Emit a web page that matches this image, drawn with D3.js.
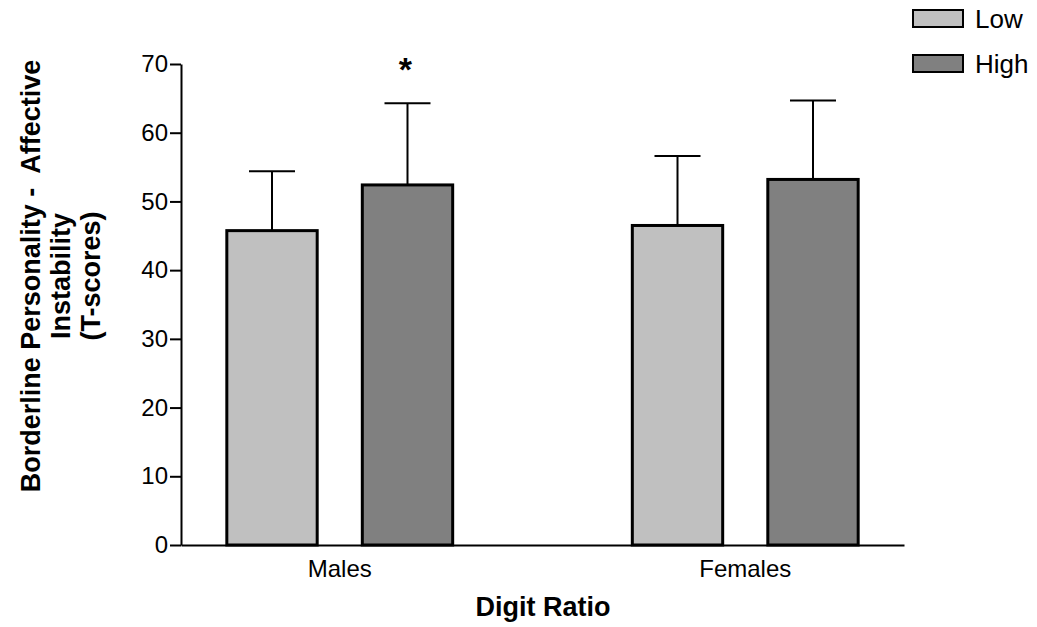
<!DOCTYPE html>
<html>
<head>
<meta charset="utf-8">
<script src="https://cdn.jsdelivr.net/npm/d3@7.9.0/dist/d3.min.js"></script>
<style>
  body { margin: 0; background: #fff; }
  svg { display: block; font-family: "Liberation Sans", Arial, sans-serif; }
</style>
</head>
<body>
<svg id="chart" width="1037" height="627"></svg>
<script>
const groups = ['Males', 'Females'];
const levels = ['Low', 'High'];
const means = [[45.75, 52.4], [46.5, 53.2]];
const errs = [[8.65, 11.9], [10.1, 11.5]];
const yTicks = [0, 10, 20, 30, 40, 50, 60, 70];
const sigMark = [['', '*'], ['', '']];

const colors = d3.scaleOrdinal().domain(levels).range(['#c0c0c0', '#808080']);

const svg = d3.select('#chart');

const x0 = d3.scaleBand()
    .domain(groups)
    .range([181, 904])
    .paddingInner(0.443)
    .paddingOuter(0.113);

const x1 = d3.scaleBand()
    .domain(levels)
    .range([0, x0.bandwidth()])
    .paddingInner(0.333);

const y = d3.scaleLinear().domain([0, 70]).range([545, 64]);

// y axis
const yAxis = svg.append('g')
    .attr('transform', 'translate(181,0)')
    .call(d3.axisLeft(y).tickValues(yTicks).tickSize(11).tickSizeOuter(0).tickPadding(2));
yAxis.select('.domain').attr('stroke-width', 2);
yAxis.selectAll('.tick line').attr('stroke-width', 2);
yAxis.selectAll('.tick text').attr('font-size', 24).attr('fill', '#000');

// bars
const data = [];
groups.forEach((g, gi) => levels.forEach((l, li) => {
  data.push({ group: g, level: l, mean: means[gi][li], err: errs[gi][li], mark: sigMark[gi][li] });
}));

const bar = svg.append('g').selectAll('g')
    .data(data)
    .join('g')
    .attr('transform', d => `translate(${x0(d.group) + x1(d.level)},0)`);

const capW = 46;
bar.append('line')
    .attr('x1', x1.bandwidth() / 2).attr('x2', x1.bandwidth() / 2)
    .attr('y1', d => y(d.mean)).attr('y2', d => y(d.mean + d.err))
    .attr('stroke', '#000').attr('stroke-width', 2);
bar.append('line')
    .attr('x1', x1.bandwidth() / 2 - capW / 2).attr('x2', x1.bandwidth() / 2 + capW / 2)
    .attr('y1', d => y(d.mean + d.err)).attr('y2', d => y(d.mean + d.err))
    .attr('stroke', '#000').attr('stroke-width', 2);

bar.append('rect')
    .attr('x', 0)
    .attr('width', x1.bandwidth())
    .attr('y', d => y(d.mean))
    .attr('height', d => y(0) - y(d.mean))
    .attr('fill', d => colors(d.level))
    .attr('stroke', '#000')
    .attr('stroke-width', 3);

bar.append('text')
    .attr('x', x1.bandwidth() / 2 - 2)
    .attr('y', y(70) + 17)
    .attr('text-anchor', 'middle')
    .attr('font-size', 34)
    .attr('font-weight', 'bold')
    .text(d => d.mark);

// x axis
const xAxis = svg.append('g')
    .attr('transform', 'translate(0,545)')
    .call(d3.axisBottom(x0).tickSize(0).tickSizeOuter(0).tickPadding(15));
xAxis.select('.domain').attr('stroke-width', 2);
xAxis.selectAll('.tick text').attr('font-size', 24).attr('fill', '#000');

// axis titles
svg.append('text')
    .attr('x', 543).attr('y', 616)
    .attr('text-anchor', 'middle')
    .attr('font-size', 27).attr('font-weight', 'bold')
    .text('Digit Ratio');

const yTitle = svg.append('text')
    .attr('transform', 'translate(40,276) rotate(-90)')
    .attr('text-anchor', 'middle')
    .attr('font-size', 27).attr('font-weight', 'bold');
['Borderline Personality -  Affective', 'Instability', '(T-scores)'].forEach((t, i) => {
  yTitle.append('tspan').attr('x', 0).attr('dy', i === 0 ? 0 : 30).attr('xml:space', 'preserve').text(t);
});

// legend
const legend = svg.append('g').selectAll('g')
    .data(levels)
    .join('g')
    .attr('transform', (d, i) => `translate(913,${10 + i * 45})`);
legend.append('rect')
    .attr('width', 50).attr('height', 17)
    .attr('fill', d => colors(d))
    .attr('stroke', '#000').attr('stroke-width', 2);
legend.append('text')
    .attr('x', 62).attr('y', 18)
    .attr('font-size', 26)
    .text(d => d);
</script>
</body>
</html>
